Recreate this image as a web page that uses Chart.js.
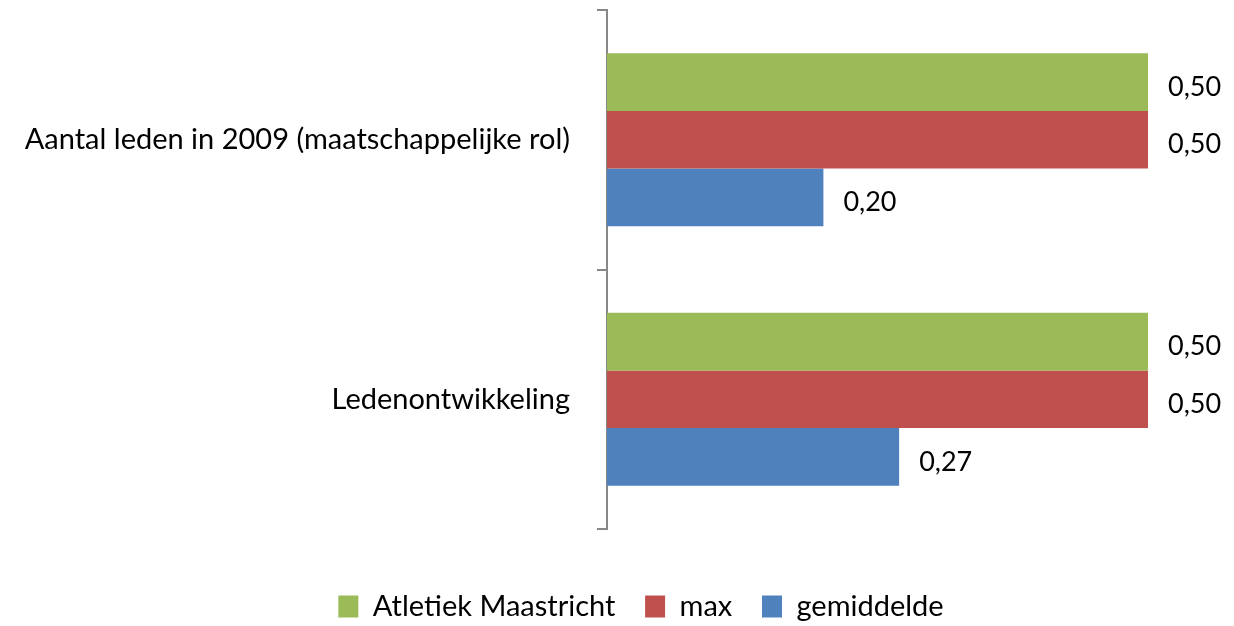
<!DOCTYPE html>
<html>
<head>
<meta charset="utf-8">
<script src="https://cdn.jsdelivr.net/npm/chart.js@4"></script>
<style>
  body { margin: 0; background: #fff; }
  #wrap { width: 1234px; height: 626px; }
</style>
</head>
<body>
<div id="wrap"><canvas id="myChart" width="1234" height="626"></canvas></div>
<script>
// categories and series
const categories = ["Aantal leden in 2009 (maatschappelijke rol)", "Ledenontwikkeling"];
const seriesNames = ["Atletiek Maastricht", "max", "gemiddelde"];
const atletiekValues = [0.50, 0.50];
const maxValues = [0.50, 0.50];
const gemiddeldeValues = [0.20, 0.27];
const seriesColors = ["#9BBB59", "#C0504D", "#4F81BD"];

const fontFamily = "Lato, sans-serif";

// draws the value next to each bar
const valueLabels = {
  id: "valueLabels",
  afterDatasetsDraw(chart) {
    const ctx = chart.ctx;
    ctx.save();
    ctx.font = "27px " + fontFamily;
    ctx.fillStyle = "#000";
    ctx.textBaseline = "middle";
    ctx.textAlign = "left";
    chart.data.datasets.forEach((ds, i) => {
      const meta = chart.getDatasetMeta(i);
      meta.data.forEach((bar, j) => {
        const txt = ds.data[j].toFixed(2).replace(".", ",");
        ctx.fillText(txt, bar.x + 20, bar.y + 5);
      });
    });
    ctx.restore();
  }
};

// legend in the original sits a bit right of centre
const legendShift = {
  id: "legendShift",
  afterLayout(chart) {
    if (chart.legend) chart.legend.left += 48;
  }
};

const ctx = document.getElementById("myChart").getContext("2d");
new Chart(ctx, {
  type: "bar",
  data: {
    labels: categories,
    datasets: [
      { label: seriesNames[0], data: atletiekValues, backgroundColor: seriesColors[0] },
      { label: seriesNames[1], data: maxValues, backgroundColor: seriesColors[1] },
      { label: seriesNames[2], data: gemiddeldeValues, backgroundColor: seriesColors[2] }
    ]
  },
  options: {
    indexAxis: "y",
    responsive: false,
    animation: false,
    categoryPercentage: 0.667,
    barPercentage: 1.0,
    layout: { padding: { top: 10, right: 0, left: 0, bottom: -5 } },
    scales: {
      x: {
        min: 0,
        max: 0.5,
        grid: { display: false },
        border: { display: false },
        ticks: { display: false },
        afterFit: (s) => {
          s.height = 63;
          s.paddingRight = 86;
        }
      },
      y: {
        grid: { drawOnChartArea: false, color: "#888", lineWidth: 2, tickLength: 10 },
        border: { color: "#888", width: 2 },
        ticks: { color: "#000", padding: 27, font: { size: 29, family: fontFamily } },
        afterFit: (s) => {
          s.width = 607;
          s.paddingTop = 0;
          s.paddingBottom = 0;
        }
      }
    },
    plugins: {
      legend: {
        position: "bottom",
        labels: {
          boxWidth: 20,
          boxHeight: 22,
          padding: 0,
          color: "#000",
          font: { size: 29, family: fontFamily },
          generateLabels: (chart) => {
            const items = Chart.defaults.plugins.legend.labels.generateLabels(chart);
            items.forEach((it, i) => {
              if (i < items.length - 1) it.text = it.text + "    ";
            });
            return items;
          }
        }
      },
      tooltip: { enabled: false }
    }
  },
  plugins: [valueLabels, legendShift]
});
</script>
</body>
</html>
